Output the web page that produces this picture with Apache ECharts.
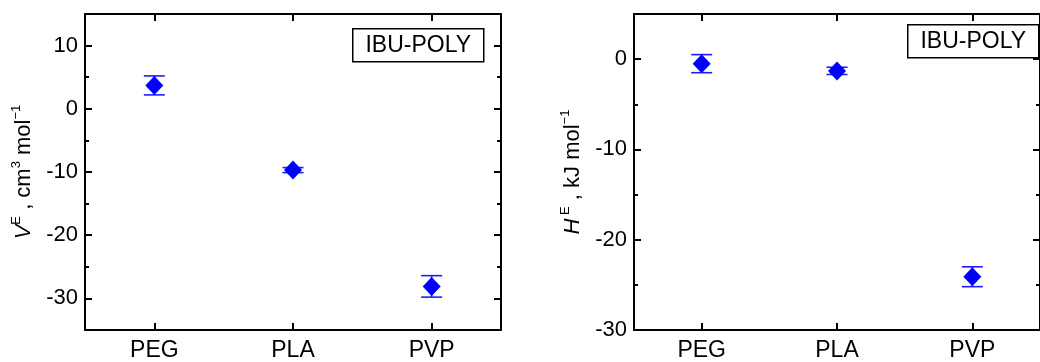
<!DOCTYPE html>
<html>
<head>
<meta charset="utf-8">
<script src="https://cdn.jsdelivr.net/npm/echarts@6/dist/echarts.min.js"></script>
<style>
  html, body { margin: 0; padding: 0; background: #fff; }
  #chart { width: 1040px; height: 362px; }
</style>
</head>
<body>
<div id="chart"></div>
<script>
// Categories (polymers mixed with ibuprofen)
const categories = ['PEG', 'PLA', 'PVP'];

// Excess volume V^E, cm3/mol: mean and error half-width
const veMean = [3.7, -9.7, -28.1];
const veErr = [1.5, 0.4, 1.7];

// Excess enthalpy H^E, kJ/mol: mean and error half-width
const heMean = [-0.5, -1.3, -24.1];
const heErr = [1.0, 0.4, 1.1];

// Axis ranges and ticks
const veRange = [-35, 15];
const veTicks = [-30, -20, -10, 0, 10];
const veMinor = [-25, -15, -5, 5];
const heRange = [-30, 5];
const heTicks = [-30, -20, -10, 0];
const heMinor = [-25, -15, -5];

const panelLabel = 'IBU-POLY';

const FONT = '"Liberation Sans", Arial, sans-serif';
const FS = 22;
const BLUE = '#0000ff';
const BAR = '#1c1cff';

function xAxes(g) {
  const base = {
    type: 'category', data: categories, gridIndex: g, boundaryGap: true,
    axisLine: { show: true, onZero: false, lineStyle: { color: '#000', width: 2 } },
    axisTick: { show: true, inside: true, alignWithLabel: true, length: 7, lineStyle: { color: '#000', width: 2 } },
    splitLine: { show: false }
  };
  return [
    Object.assign({}, base, { position: 'bottom',
      axisLabel: { color: '#000', fontSize: 23, fontFamily: FONT, margin: 9 } }),
    Object.assign({}, base, { position: 'top', axisLabel: { show: false } })
  ];
}

function yAxes(g, range, ticks, minor, name) {
  const common = {
    type: 'value', gridIndex: g, min: range[0], max: range[1],
    splitLine: { show: false }
  };
  const rich = {
    i: { fontSize: FS, fontStyle: 'italic', fontFamily: FONT, color: '#000' },
    n: { fontSize: FS, fontFamily: FONT, color: '#000' },
    sup: { fontSize: 13, fontFamily: FONT, color: '#000', padding: [0, 0, 14, 0] }
  };
  return [
    Object.assign({}, common, {
      position: 'left',
      axisLine: { show: true, onZero: false, lineStyle: { color: '#000', width: 2 } },
      axisTick: { show: true, inside: true, length: 7, customValues: ticks, lineStyle: { color: '#000', width: 2 } },
      axisLabel: { customValues: ticks, color: '#000', fontSize: FS, fontFamily: FONT, margin: 7 },
      name: name, nameLocation: 'middle', nameRotate: 90, nameGap: 48,
      nameTextStyle: { rich: rich }
    }),
    Object.assign({}, common, {
      position: 'left',
      axisLine: { show: false },
      axisTick: { show: true, inside: true, length: 4, customValues: minor, lineStyle: { color: '#000', width: 2 } },
      axisLabel: { show: false }
    }),
    Object.assign({}, common, {
      position: 'right',
      axisLine: { show: true, onZero: false, lineStyle: { color: '#000', width: 2 } },
      axisTick: { show: true, inside: true, length: 7, customValues: ticks, lineStyle: { color: '#000', width: 2 } },
      axisLabel: { show: false }
    }),
    Object.assign({}, common, {
      position: 'right',
      axisLine: { show: false },
      axisTick: { show: true, inside: true, length: 4, customValues: minor, lineStyle: { color: '#000', width: 2 } },
      axisLabel: { show: false }
    })
  ];
}

function errorSeries(xi, yi, mean, err) {
  return {
    type: 'custom', xAxisIndex: xi, yAxisIndex: yi, z: 2,
    data: mean.map((m, i) => [i, m - err[i], m + err[i]]),
    renderItem: function (params, api) {
      const x = api.value(0);
      const lo = api.coord([x, api.value(1)]);
      const hi = api.coord([x, api.value(2)]);
      const half = 10.5;
      const style = { stroke: BAR, lineWidth: 1.6 };
      return {
        type: 'group',
        children: [
          { type: 'line', shape: { x1: lo[0], y1: lo[1], x2: hi[0], y2: hi[1] }, style: style },
          { type: 'line', shape: { x1: hi[0] - half, y1: hi[1], x2: hi[0] + half, y2: hi[1] }, style: style },
          { type: 'line', shape: { x1: lo[0] - half, y1: lo[1], x2: lo[0] + half, y2: lo[1] }, style: style }
        ]
      };
    }
  };
}

function pointSeries(xi, yi, mean) {
  return {
    type: 'scatter', xAxisIndex: xi, yAxisIndex: yi, z: 3,
    symbol: 'diamond', symbolSize: [18, 19],
    itemStyle: { color: BLUE, opacity: 1 },
    data: mean
  };
}

function labelBox(left, top) {
  return {
    type: 'group', left: left, top: top,
    children: [
      { type: 'rect', shape: { x: 0, y: 0, width: 131, height: 33 },
        style: { fill: '#fff', stroke: '#000', lineWidth: 1.5 } },
      { type: 'text', x: 65.5, y: 17,
        style: { text: panelLabel, font: '23px ' + FONT, fill: '#000', align: 'center', verticalAlign: 'middle' } }
    ]
  };
}

const chart = echarts.init(document.getElementById('chart'), null, { renderer: 'canvas' });

chart.setOption({
  animation: false,
  backgroundColor: '#fff',
  grid: [
    { left: 85, top: 14, width: 416, height: 318 },
    { left: 634, top: 14, width: 416, height: 318 }
  ],
  xAxis: [].concat(xAxes(0), xAxes(1)),
  yAxis: [].concat(
    yAxes(0, veRange, veTicks, veMinor, '{i|V}{sup|E}{n| , cm}{sup|3}{n| mol}{sup|−1}'),
    yAxes(1, heRange, heTicks, heMinor, '{i|H}{sup| E}{n| , kJ mol}{sup|−1}')
  ),
  series: [
    errorSeries(0, 0, veMean, veErr),
    pointSeries(0, 0, veMean),
    errorSeries(2, 4, heMean, heErr),
    pointSeries(2, 4, heMean)
  ],
  graphic: [
    labelBox(352, 28),
    labelBox(907, 24)
  ]
});
</script>
</body>
</html>
